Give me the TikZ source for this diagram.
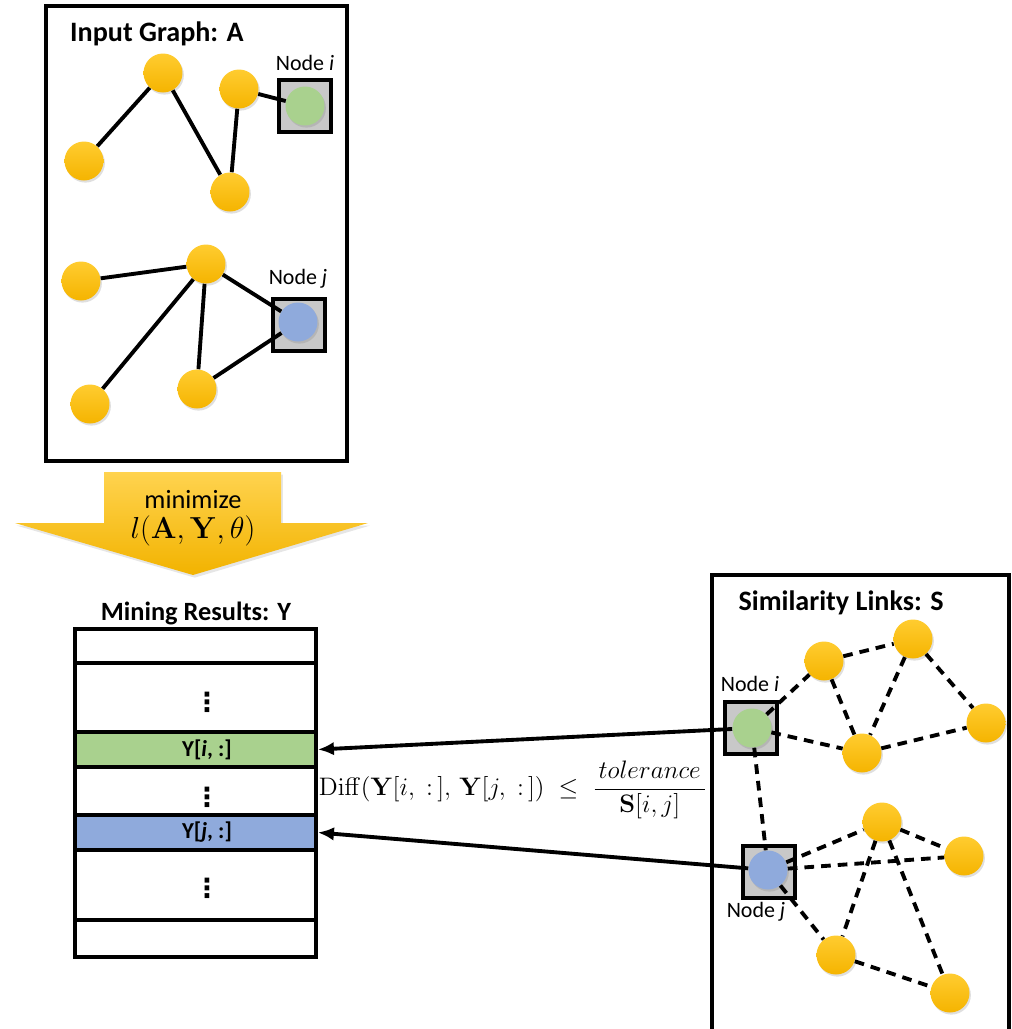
\documentclass[tikz,border=0pt]{standalone}
\usepackage{amsmath}
\usepackage[no-math]{fontspec}
\setmainfont{Carlito}
\newfontfamily\symbolschrift{DejaVu Sans}
\usetikzlibrary{arrows.meta,shadows}

\definecolor{gelbHell}{HTML}{FFCC30}
\definecolor{gelbDunkel}{HTML}{F5B400}
\definecolor{gruen}{HTML}{A9D18E}
\definecolor{blau}{HTML}{8FAADC}
\definecolor{grau}{HTML}{C8C8C8}
\definecolor{pfeilHell}{HTML}{FFD34F}
\definecolor{pfeilDunkel}{HTML}{F2B300}

\tikzset{
	knoten/.style={circle, minimum size=0.78cm, inner sep=0pt, top color=gelbHell, bottom color=gelbDunkel,
		drop shadow={shadow xshift=0.8pt, shadow yshift=-1.2pt, opacity=0.25}},
	markiert/.style={circle, minimum size=0.78cm, inner sep=0pt, fill=#1,
		drop shadow={shadow xshift=0.8pt, shadow yshift=-1.2pt, opacity=0.25}},
	rahmen/.style={draw, line width=2.2pt, fill=grau, minimum size=1.04cm, inner sep=0pt},
	kante/.style={line width=2.2pt},
	strich/.style={line width=2.2pt, dash pattern=on 5.5pt off 4pt},
	titel/.style={font=\fontsize{16}{18}\selectfont\bfseries},
	beschriftung/.style={font=\fontsize{12.5}{14}\selectfont},
	zeile/.style={draw, line width=2.2pt, minimum width=4.82cm, inner sep=0pt},
	punkte/.style={font=\fontsize{15}{17}\symbolschrift\bfseries, inner sep=0pt},
	pfeil/.style={line width=2.2pt, -{Latex[length=0.32cm, width=0.27cm]}},
}

\begin{document}
\begin{tikzpicture}[x=0.02cm, y=-0.02cm]
	
	\useasboundingbox (0,0) rectangle (1012,1029);
	
	% Rahmen Eingabegraph
	\draw[line width=2.2pt] (46,6) rectangle (347,461);
	\node[titel, anchor=west] (titelA) at (64,34) {Input Graph: A};
	
	% Knoten oberer Teil
	\node[knoten] (a1) at (163,73) {};
	\node[knoten] (a2) at (239,89) {};
	\node[knoten] (a3) at (84,161) {};
	\node[knoten] (a4) at (230,192) {};
	\node[rahmen] (iRahmenA) at (305,106) {};
	\node[markiert=gruen] (iA) at (305,106) {};
	\node[beschriftung] (iLabelA) at (305,63) {Node \textit{i}};
	
	% Knoten unterer Teil
	\node[knoten] (b1) at (206,264) {};
	\node[knoten] (b2) at (81,281) {};
	\node[knoten] (b3) at (90,404) {};
	\node[knoten] (b4) at (197,389) {};
	\node[rahmen] (jRahmenA) at (299,325) {};
	\node[markiert=blau] (jA) at (298,322) {};
	\node[beschriftung] (jLabelA) at (298,279) {Node \textit{j}};
	
	% Kanten
	\draw[kante] (a3) -- (a1);
	\draw[kante] (a1) -- (a4);
	\draw[kante] (a2) -- (a4);
	\draw[kante] (a2) -- (iA);
	\draw[kante] (b2) -- (b1);
	\draw[kante] (b1) -- (b3);
	\draw[kante] (b1) -- (b4);
	\draw[kante] (b1) -- (jA);
	\draw[kante] (b4) -- (jA);
	
	% Pfeil minimize
	\path[top color=pfeilHell, bottom color=pfeilDunkel,
		drop shadow={shadow xshift=1pt, shadow yshift=-1.5pt, opacity=0.2}]
		(104,472) -- (281,472) -- (281,523) -- (368,523) -- (193,575) -- (15,523) -- (104,523) -- cycle;
	\node[font=\fontsize{15}{17}\selectfont] (minText) at (193,500) {minimize};
	\node[font=\fontsize{16}{18}\selectfont] (verlust) at (193,531) {$l(\mathbf{A},\mathbf{Y},\theta)$};
	
	% Tabelle Ergebnisse
	\node[titel, font=\fontsize{15}{17}\selectfont\bfseries] (titelY) at (196,613) {Mining Results: Y};
	\node[zeile, minimum height=0.68cm] (z1) at (195.5,646) {};
	\node[zeile, minimum height=1.38cm] (z2) at (195.5,697.5) {};
	\node[zeile, minimum height=0.70cm, fill=gruen] (zeileI) at (195.5,749.5) {};
	\node[zeile, minimum height=0.96cm] (z4) at (195.5,791) {};
	\node[zeile, minimum height=0.70cm, fill=blau] (zeileJ) at (195.5,832.5) {};
	\node[zeile, minimum height=1.40cm] (z6) at (195.5,885) {};
	\node[zeile, minimum height=0.74cm] (z7) at (195.5,938.5) {};
	
	\node[font=\fontsize{13}{15}\selectfont\bfseries] (yi) at (207,749.5) {Y[\textit{i}, :]};
	\node[font=\fontsize{13}{15}\selectfont\bfseries] (yj) at (207,832.5) {Y[\textit{j}, :]};
	\node[punkte] (dots1) at (207,702) {⋮};
	\node[punkte] (dots2) at (207,797) {⋮};
	\node[punkte] (dots3) at (207,888) {⋮};
	
	% Formel
	\node[font=\fontsize{15}{17}\selectfont] (formel) at (513,790)
		{$\mathrm{Diff}(\mathbf{Y}[i,\;:\,],\,\mathbf{Y}[j,\;:\,])\mathrel{\;\le\;}\dfrac{\,tolerance\,}{\mathbf{S}[i,j]}$};
	
	% Rahmen Aehnlichkeiten
	\draw[line width=2.2pt] (712,1035) -- (712,575) -- (1009,575) -- (1009,1035);
	\node[titel] (titelS) at (841,603) {Similarity Links: S};
	
	\node[knoten] (s1) at (824,661) {};
	\node[knoten] (s2) at (913,639) {};
	\node[knoten] (s3) at (986,723) {};
	\node[knoten] (s4) at (862,753) {};
	\node[rahmen] (iRahmenS) at (751,728) {};
	\node[markiert=gruen] (iS) at (752,728) {};
	\node[beschriftung] (iLabelS) at (750,684) {Node \textit{i}};
	
	\node[knoten] (t1) at (882,822) {};
	\node[knoten] (t2) at (964,856) {};
	\node[knoten] (t3) at (836,955) {};
	\node[knoten] (t4) at (950,993) {};
	\node[rahmen] (jRahmenS) at (769,872) {};
	\node[markiert=blau] (jS) at (768,870) {};
	\node[beschriftung] (jLabelS) at (756,912) {Node \textit{j}};
	
	% gestrichelte Kanten
	\draw[strich] (iS) -- (s1);
	\draw[strich] (iS) -- (s4);
	\draw[strich] (iS) -- (jS);
	\draw[strich] (s1) -- (s2);
	\draw[strich] (s1) -- (s4);
	\draw[strich] (s2) -- (s4);
	\draw[strich] (s2) -- (s3);
	\draw[strich] (s4) -- (s3);
	\draw[strich] (jS) -- (t1);
	\draw[strich] (jS) -- (t2);
	\draw[strich] (jS) -- (t3);
	\draw[strich] (t1) -- (t2);
	\draw[strich] (t1) -- (t3);
	\draw[strich] (t1) -- (t4);
	\draw[strich] (t3) -- (t4);
	
	% Verbindungen zur Tabelle
	\draw[pfeil] (iS) -- (zeileI.east);
	\draw[pfeil] (jS) -- (zeileJ.east);
	
\end{tikzpicture}
\end{document}
